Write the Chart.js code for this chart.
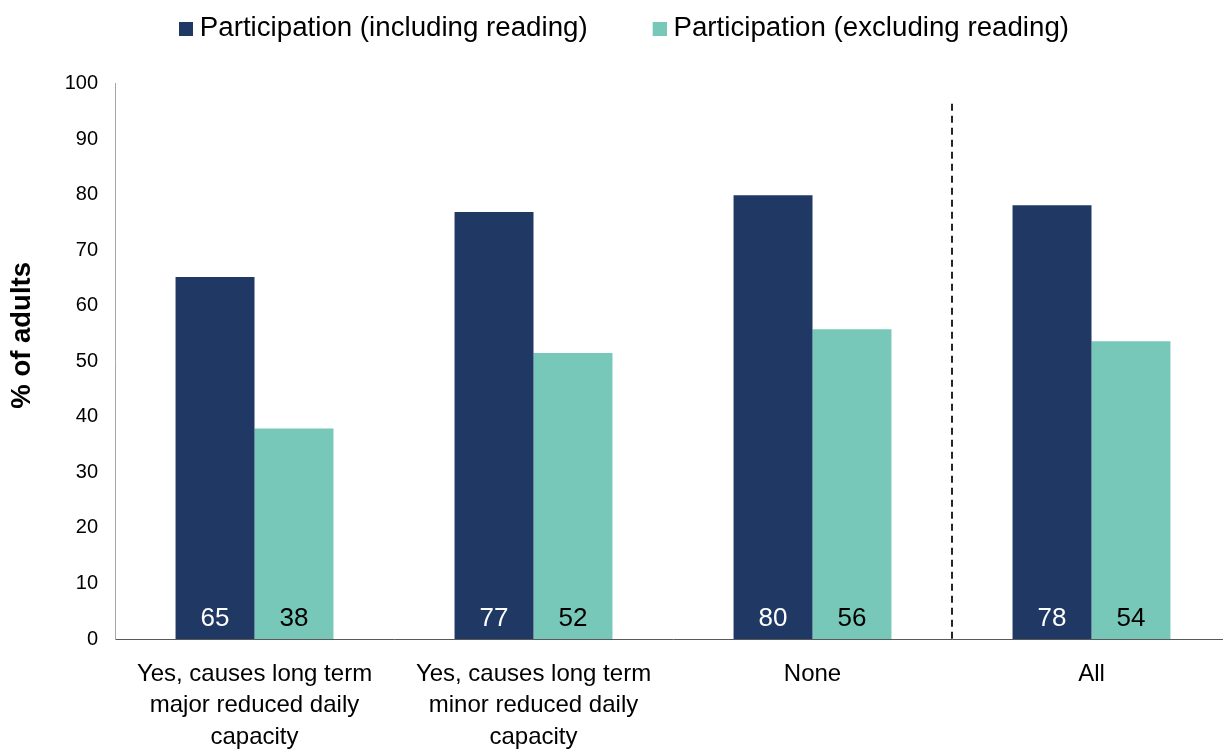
<!DOCTYPE html>
<html>
<head>
<meta charset="utf-8">
<script src="https://cdn.jsdelivr.net/npm/chart.js@4.4.1/dist/chart.umd.min.js"></script>
<style>
  html, body { margin: 0; padding: 0; background: #fff; overflow: hidden; }
  #wrap { width: 1232px; height: 749px; }
</style>
</head>
<body>
<div id="wrap"><canvas id="chart" width="1232" height="749"></canvas></div>
<script>
const categories = [
  ["Yes, causes long term", "major reduced daily", "capacity"],
  ["Yes, causes long term", "minor reduced daily", "capacity"],
  "None",
  "All",
];
const includingReading = [65.2, 76.9, 79.9, 78.1];
const excludingReading = [37.9, 51.5, 55.8, 53.6];
const yTicks = [0, 10, 20, 30, 40, 50, 60, 70, 80, 90, 100];
const yTitle = "% of adults";

const FONT = "'Liberation Sans', Arial, sans-serif";
const NAVY = "#1f3864";
const TEAL = "#77c8b9";

// legend marker: square on the right of a transparent image so the text sits close to it
const legendSquare = (color) => {
  const c = document.createElement("canvas");
  c.width = 38;
  c.height = 14;
  const g = c.getContext("2d");
  g.fillStyle = color;
  g.fillRect(24, 0, 14, 14);
  return c;
};

// more room under the legend
const legendSpace = {
  id: "legendSpace",
  afterInit(chart) {
    const legend = chart.legend;
    const fit = legend.fit.bind(legend);
    legend.fit = function () {
      fit();
      this.height += 31;
    };
  },
};

// y axis title, a bit above the middle of the axis
const axisTitle = {
  id: "axisTitle",
  afterDraw(chart) {
    const { ctx, chartArea } = chart;
    ctx.save();
    ctx.translate(22, (chartArea.top + chartArea.bottom) / 2 - 26);
    ctx.rotate(-Math.PI / 2);
    ctx.font = "bold 27.5px " + FONT;
    ctx.fillStyle = "#000";
    ctx.textAlign = "center";
    ctx.textBaseline = "middle";
    ctx.fillText(yTitle, 0, 0);
    ctx.restore();
  },
};

// rounded values written at the bottom of each bar
const barValues = {
  id: "barValues",
  afterDatasetsDraw(chart) {
    const ctx = chart.ctx;
    const y0 = chart.scales.y.getPixelForValue(0);
    ctx.save();
    ctx.font = "26px " + FONT;
    ctx.textAlign = "center";
    ctx.textBaseline = "middle";
    chart.data.datasets.forEach((ds, i) => {
      chart.getDatasetMeta(i).data.forEach((bar, j) => {
        ctx.fillStyle = i === 0 ? "#ffffff" : "#000000";
        ctx.fillText(Math.round(ds.data[j]), bar.x, y0 - 20);
      });
    });
    ctx.restore();
  },
};

// dashed separator before "All"
const separator = {
  id: "separator",
  afterDatasetsDraw(chart) {
    const { ctx, scales } = chart;
    const x = scales.x.getPixelForValue(2.5);
    ctx.save();
    ctx.strokeStyle = "#262626";
    ctx.lineWidth = 2;
    ctx.setLineDash([7, 5]);
    ctx.beginPath();
    ctx.moveTo(x, scales.y.getPixelForValue(96.4));
    ctx.lineTo(x, scales.y.getPixelForValue(0));
    ctx.stroke();
    ctx.restore();
  },
};

new Chart(document.getElementById("chart"), {
  type: "bar",
  data: {
    labels: categories,
    datasets: [
      {
        label: "Participation (including reading)",
        data: includingReading,
        backgroundColor: NAVY,
        pointStyle: legendSquare(NAVY),
      },
      {
        label: "Participation (excluding reading)",
        data: excludingReading,
        backgroundColor: TEAL,
        pointStyle: legendSquare(TEAL),
      },
    ],
  },
  options: {
    responsive: false,
    animation: false,
    devicePixelRatio: 1,
    categoryPercentage: 0.566,
    barPercentage: 1,
    layout: { padding: { top: -33, right: 1, left: 0, bottom: 0 } },
    plugins: {
      tooltip: { enabled: false },
      legend: {
        position: "top",
        labels: {
          usePointStyle: true,
          pointStyleWidth: 24,
          boxHeight: 14,
          padding: 48,
          color: "#000",
          font: { family: FONT, size: 27.7 },
        },
      },
    },
    scales: {
      x: {
        grid: { display: false, drawTicks: false },
        border: { color: "#595959", width: 1 },
        ticks: {
          color: "#000",
          font: { family: FONT, size: 24, lineHeight: 1.3 },
          padding: 20,
          maxRotation: 0,
          autoSkip: false,
        },
        afterFit: (scale) => { scale.height = 110; },
      },
      y: {
        min: 0,
        max: 100,
        grid: { display: false, drawTicks: false },
        border: { color: "#a6a6a6", width: 1 },
        afterBuildTicks: (scale) => { scale.ticks = yTicks.map((v) => ({ value: v })); },
        ticks: {
          color: "#000",
          font: { family: FONT, size: 20 },
          padding: 17,
        },
        afterFit: (scale) => { scale.width = 115; },
      },
    },
  },
  plugins: [legendSpace, axisTitle, barValues, separator],
});
</script>
</body>
</html>
